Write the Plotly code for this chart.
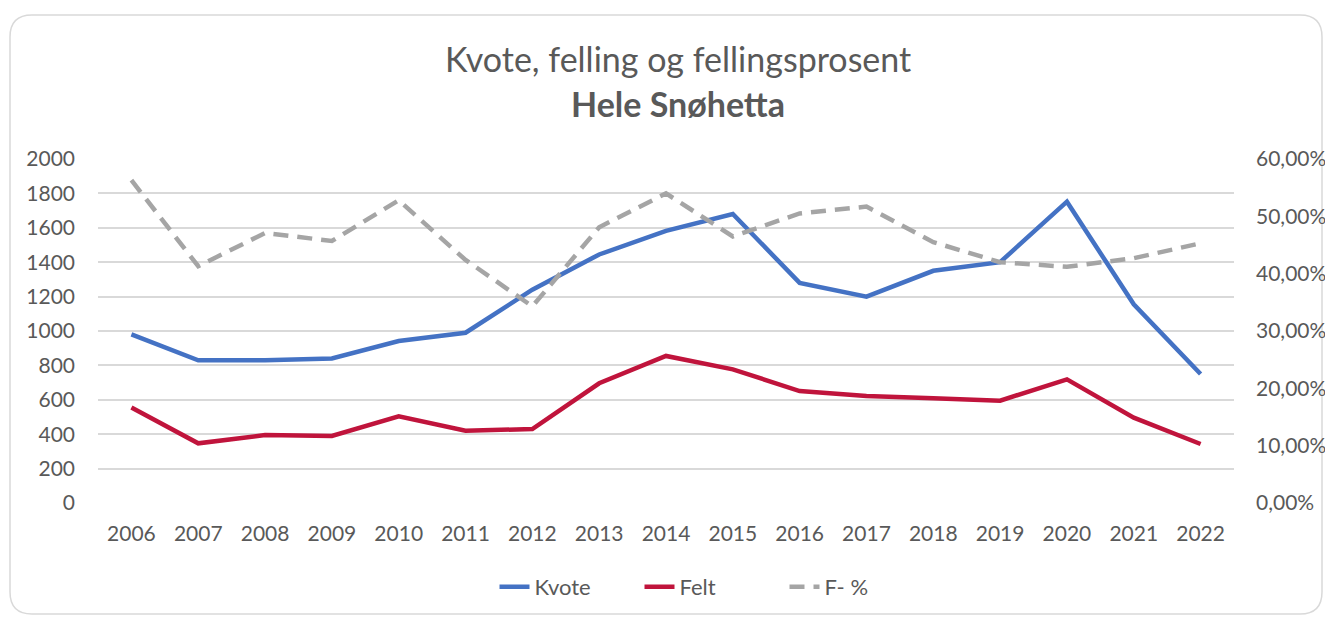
import plotly.graph_objects as go

years = [str(y) for y in range(2006, 2023)]
kvote = [980, 830, 830, 840, 942, 990, 1240, 1445, 1582, 1680, 1280, 1200, 1350, 1400, 1752, 1155, 750]
felt = [555, 347, 395, 390, 504, 420, 430, 696, 855, 777, 651, 622, 609, 595, 719, 496, 343]
fpct = [0.563, 0.413, 0.471, 0.457, 0.528, 0.424, 0.343, 0.481, 0.540, 0.465, 0.505, 0.517, 0.455, 0.420, 0.412, 0.427, 0.453]

title1 = "Kvote, felling og fellingsprosent"
title2 = "Hele Snøhetta"

FONT = "Lato"
TXT = "#595959"
OFF = 8  # page body margin
W, H = 1333 - OFF, 617 - OFF
# plot area in screen pixels: x 98..1234, y 159..503
ML, MR, MT, MB = 98 - OFF, 1333 - 1234, 159 - OFF, 617 - 503
PW, PH = W - ML - MR, H - MT - MB

fig = go.Figure()
fig.add_trace(go.Scatter(x=years, y=kvote, name="Kvote", mode="lines",
                         line=dict(color="#4472C4", width=4.5)))
fig.add_trace(go.Scatter(x=years, y=felt, name="Felt", mode="lines",
                         line=dict(color="#C0143C", width=4.5)))
fig.add_trace(go.Scatter(x=years, y=fpct, name="F- %", mode="lines", yaxis="y2",
                         line=dict(color="#A5A5A5", width=4.5, dash="15px,9px")))

def px2paper(x, y):
    # screen pixel -> paper coords
    return (x - OFF - ML) / PW, (H - MB - (y - OFF)) / PH

x0, y0, x1, y1, r = 10, 15, 1322, 614, 22
def P(x, y):
    a, b = px2paper(x, y)
    return f"{a:.5f},{b:.5f}"
path = (f"M {P(x0 + r, y0)} L {P(x1 - r, y0)} Q {P(x1, y0)} {P(x1, y0 + r)} "
        f"L {P(x1, y1 - r)} Q {P(x1, y1)} {P(x1 - r, y1)} "
        f"L {P(x0 + r, y1)} Q {P(x0, y1)} {P(x0, y1 - r)} "
        f"L {P(x0, y0 + r)} Q {P(x0, y0)} {P(x0 + r, y0)} Z")

fig.update_layout(
    width=W, height=H,
    margin=dict(l=ML, r=MR, t=MT, b=MB, autoexpand=False),
    paper_bgcolor="white", plot_bgcolor="white",
    separators=", ",
    font=dict(family=FONT, color=TXT, size=21),
    showlegend=True,
    legend=dict(orientation="h", x=px2paper(712, 0)[0], xanchor="center", y=px2paper(0, 587)[1],
                yanchor="middle", font=dict(size=22, color=TXT), traceorder="normal",
                entrywidth=100),
    xaxis=dict(type="category", range=[-0.5, 16.5], showgrid=False, showline=False, automargin=False,
               ticks="", tickfont=dict(size=21, color=TXT), ticklabelstandoff=16, fixedrange=True),
    yaxis=dict(range=[0, 2000], dtick=200, showgrid=True, gridcolor="#D9D9D9", gridwidth=1.5,
               zeroline=False, showline=False, ticks="", tickfont=dict(size=21, color=TXT),
               ticklabelstandoff=22, tickformat="d", automargin=False),
    yaxis2=dict(range=[0, 0.6], dtick=0.1, overlaying="y", side="right", showgrid=False,
                zeroline=False, showline=False, ticks="", tickformat=".2%", automargin=False,
                tickfont=dict(size=21, color=TXT), ticklabelstandoff=21),
    shapes=[dict(type="path", xref="paper", yref="paper", path=path,
                 line=dict(color="#D9D9D9", width=1.5), fillcolor="rgba(0,0,0,0)", layer="below")],
    annotations=[
        dict(text=title1, xref="paper", yref="paper", x=px2paper(678, 0)[0], y=px2paper(0, 59)[1],
             xanchor="center", yanchor="middle", showarrow=False,
             font=dict(family=FONT, size=34, color=TXT)),
        dict(text="<b>" + title2 + "</b>", xref="paper", yref="paper", x=px2paper(678, 0)[0],
             y=px2paper(0, 104)[1], xanchor="center", yanchor="middle", showarrow=False,
             font=dict(family=FONT, size=34, color=TXT)),
    ],
)

fig.write_html("out.html")
